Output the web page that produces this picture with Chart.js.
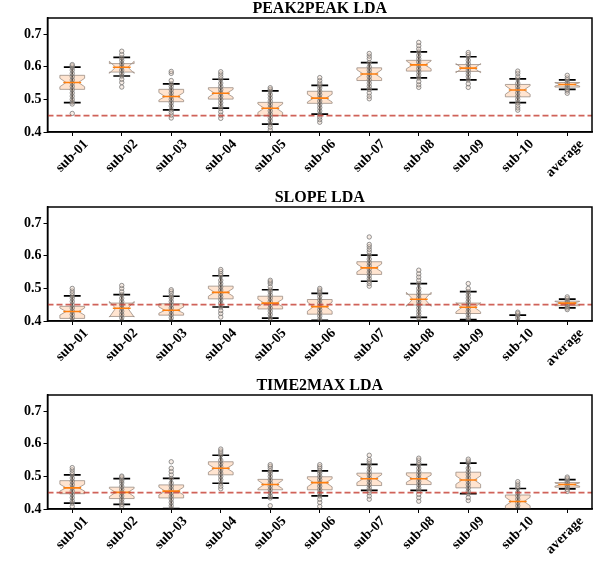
<!DOCTYPE html>
<html>
<head>
<meta charset="utf-8">
<script src="https://cdn.jsdelivr.net/npm/chart.js@4.4.0/dist/chart.umd.min.js"></script>
<style>
body{margin:0;background:#fff;width:610px;height:565px;position:relative;overflow:hidden}
.panel{position:absolute;left:0;width:610px;height:188px}
</style>
</head>
<body>
<div class="panel" style="top:0"><canvas id="c0"></canvas></div>
<div class="panel" style="top:189px"><canvas id="c1"></canvas></div>
<div class="panel" style="top:377px"><canvas id="c2"></canvas></div>
<script>
var subjects = ['sub-01','sub-02','sub-03','sub-04','sub-05','sub-06','sub-07','sub-08','sub-09','sub-10','average'];
var yTicks = [0.4, 0.5, 0.6, 0.7];
var chance = 0.45;

// PEAK2PEAK
var p2pQ1 = [0.531,0.584,0.493,0.501,0.450,0.488,0.558,0.587,0.586,0.508,0.538];
var p2pMed = [0.552,0.599,0.509,0.519,0.473,0.504,0.578,0.606,0.596,0.529,0.546];
var p2pQ3 = [0.574,0.610,0.531,0.536,0.491,0.525,0.597,0.620,0.607,0.546,0.552];
var p2pNotchLo = [0.539,0.580,0.498,0.507,0.460,0.492,0.565,0.594,0.582,0.516,0.541];
var p2pNotchHi = [0.565,0.617,0.521,0.531,0.486,0.516,0.591,0.618,0.610,0.542,0.551];
var p2pWhiskLo = [0.490,0.572,0.468,0.473,0.424,0.455,0.531,0.566,0.560,0.490,0.531];
var p2pWhiskHi = [0.599,0.629,0.548,0.562,0.526,0.543,0.613,0.646,0.631,0.563,0.560];
var p2pPoints = [
  [0.457,0.486,0.492,0.50,0.51,0.52,0.53,0.54,0.55,0.56,0.57,0.58,0.59,0.598,0.603,0.607],
  [0.538,0.552,0.562,0.572,0.58,0.59,0.60,0.61,0.62,0.628,0.638,0.648],
  [0.443,0.452,0.46,0.468,0.48,0.49,0.50,0.51,0.52,0.53,0.54,0.548,0.558,0.58,0.586],
  [0.442,0.452,0.462,0.472,0.48,0.49,0.50,0.51,0.52,0.53,0.54,0.55,0.562,0.57,0.578,0.585],
  [0.406,0.415,0.424,0.435,0.445,0.455,0.465,0.475,0.485,0.495,0.505,0.515,0.526,0.531,0.536],
  [0.430,0.438,0.446,0.455,0.465,0.475,0.485,0.495,0.505,0.515,0.525,0.535,0.543,0.55,0.558,0.567],
  [0.502,0.51,0.52,0.531,0.54,0.55,0.56,0.57,0.58,0.59,0.60,0.613,0.625,0.633,0.641],
  [0.537,0.545,0.555,0.566,0.575,0.585,0.595,0.605,0.615,0.625,0.635,0.646,0.655,0.665,0.675],
  [0.537,0.548,0.56,0.57,0.58,0.59,0.60,0.61,0.62,0.631,0.638,0.644],
  [0.467,0.474,0.482,0.49,0.50,0.51,0.52,0.53,0.54,0.55,0.563,0.57,0.58,0.587],
  [0.519,0.526,0.531,0.538,0.545,0.552,0.56,0.566,0.574]
];

// SLOPE
var slopeQ1 = [0.408,0.414,0.418,0.468,0.437,0.421,0.543,0.449,0.423,0.360,0.447];
var slopeMed = [0.429,0.439,0.433,0.488,0.455,0.444,0.563,0.467,0.442,0.375,0.455];
var slopeQ3 = [0.445,0.455,0.453,0.507,0.476,0.466,0.582,0.482,0.455,0.390,0.461];
var slopeNotchLo = [0.418,0.412,0.424,0.476,0.444,0.430,0.551,0.445,0.428,0.365,0.450];
var slopeNotchHi = [0.440,0.460,0.443,0.500,0.467,0.458,0.575,0.488,0.456,0.385,0.460];
var slopeWhiskLo = [0.395,0.398,0.395,0.443,0.409,0.402,0.522,0.411,0.404,0.330,0.440];
var slopeWhiskHi = [0.477,0.481,0.476,0.539,0.496,0.485,0.602,0.515,0.490,0.418,0.467];
var slopePoints = [
  [0.39,0.40,0.41,0.42,0.43,0.44,0.45,0.46,0.47,0.477,0.485,0.492,0.50],
  [0.39,0.40,0.41,0.42,0.43,0.44,0.45,0.46,0.47,0.481,0.49,0.50,0.509],
  [0.39,0.40,0.41,0.42,0.43,0.44,0.45,0.46,0.47,0.476,0.485,0.491,0.496],
  [0.412,0.423,0.432,0.443,0.455,0.465,0.475,0.485,0.495,0.505,0.515,0.525,0.539,0.545,0.552,0.558],
  [0.40,0.409,0.42,0.43,0.44,0.45,0.46,0.47,0.48,0.49,0.496,0.505,0.515,0.52,0.525],
  [0.395,0.405,0.415,0.425,0.435,0.445,0.455,0.465,0.475,0.485,0.49,0.495,0.50],
  [0.507,0.515,0.522,0.53,0.54,0.55,0.56,0.57,0.58,0.59,0.602,0.612,0.62,0.628,0.635,0.658],
  [0.40,0.411,0.42,0.43,0.44,0.45,0.46,0.47,0.48,0.49,0.50,0.515,0.525,0.535,0.545,0.556],
  [0.398,0.404,0.41,0.42,0.43,0.44,0.45,0.46,0.47,0.48,0.49,0.50,0.515],
  [0.38,0.39,0.40,0.41,0.418,0.423,0.427],
  [0.435,0.44,0.446,0.452,0.458,0.464,0.469,0.474]
];

// TIME2MAX
var t2mQ1 = [0.447,0.432,0.434,0.505,0.459,0.459,0.472,0.475,0.465,0.390,0.467];
var t2mMed = [0.465,0.451,0.455,0.525,0.475,0.481,0.493,0.493,0.489,0.423,0.475];
var t2mQ3 = [0.487,0.467,0.474,0.545,0.491,0.499,0.510,0.511,0.513,0.443,0.481];
var t2mNotchLo = [0.455,0.438,0.443,0.513,0.462,0.468,0.481,0.482,0.476,0.410,0.470];
var t2mNotchHi = [0.476,0.463,0.467,0.537,0.488,0.493,0.505,0.504,0.502,0.436,0.480];
var t2mWhiskLo = [0.418,0.414,0.401,0.479,0.434,0.440,0.457,0.457,0.447,0.370,0.462];
var t2mWhiskHi = [0.505,0.493,0.494,0.565,0.517,0.517,0.537,0.536,0.541,0.463,0.490];
var t2mPoints = [
  [0.408,0.418,0.425,0.435,0.445,0.455,0.465,0.475,0.485,0.495,0.505,0.512,0.52,0.527],
  [0.408,0.414,0.422,0.43,0.44,0.45,0.46,0.47,0.48,0.487,0.493,0.498,0.501],
  [0.395,0.401,0.41,0.42,0.43,0.44,0.45,0.46,0.47,0.48,0.494,0.505,0.515,0.525,0.545],
  [0.462,0.47,0.479,0.49,0.50,0.51,0.52,0.53,0.54,0.55,0.565,0.572,0.578,0.584],
  [0.41,0.434,0.44,0.45,0.46,0.47,0.48,0.49,0.50,0.51,0.517,0.525,0.531,0.536],
  [0.408,0.42,0.43,0.44,0.45,0.46,0.47,0.48,0.49,0.50,0.51,0.517,0.525,0.53,0.536],
  [0.43,0.44,0.45,0.457,0.465,0.475,0.485,0.495,0.505,0.515,0.525,0.537,0.545,0.552,0.565],
  [0.424,0.435,0.445,0.457,0.465,0.475,0.485,0.495,0.505,0.515,0.525,0.536,0.542,0.55,0.556],
  [0.426,0.435,0.447,0.455,0.465,0.475,0.485,0.495,0.505,0.515,0.525,0.541,0.547,0.553],
  [0.39,0.40,0.41,0.42,0.43,0.44,0.45,0.463,0.47,0.477,0.484],
  [0.454,0.46,0.466,0.472,0.478,0.484,0.49,0.494,0.498]
];

var panels = [
  {title:'PEAK2PEAK LDA', q1:p2pQ1, med:p2pMed, q3:p2pQ3, nlo:p2pNotchLo, nhi:p2pNotchHi, wlo:p2pWhiskLo, whi:p2pWhiskHi, pts:p2pPoints},
  {title:'SLOPE LDA', q1:slopeQ1, med:slopeMed, q3:slopeQ3, nlo:slopeNotchLo, nhi:slopeNotchHi, wlo:slopeWhiskLo, whi:slopeWhiskHi, pts:slopePoints},
  {title:'TIME2MAX LDA', q1:t2mQ1, med:t2mMed, q3:t2mQ3, nlo:t2mNotchLo, nhi:t2mNotchHi, wlo:t2mWhiskLo, whi:t2mWhiskHi, pts:t2mPoints}
];

var serif = "'Liberation Serif', 'Times New Roman', serif";

// draws notched boxes + whiskers under the points, medians / chance line / frame / title on top
var boxPlugin = {
  id: 'notchBox',
  beforeDatasetsDraw: function(chart, args, o){
    var ctx = chart.ctx, x = chart.scales.x, y = chart.scales.y, a = chart.chartArea;
    var step = x.getPixelForValue(1) - x.getPixelForValue(0);
    var half = step*0.25, cap = step*0.17;
    ctx.save();
    ctx.beginPath(); ctx.rect(a.left, a.top, a.right-a.left, a.bottom-a.top); ctx.clip();
    o.q1.forEach(function(q1, i){
      var xc = x.getPixelForValue(i);
      var y1 = y.getPixelForValue(q1), y3 = y.getPixelForValue(o.q3[i]);
      var ym = y.getPixelForValue(o.med[i]);
      var nl = y.getPixelForValue(o.nlo[i]), nh = y.getPixelForValue(o.nhi[i]);
      ctx.beginPath();
      ctx.moveTo(xc-half, y1); ctx.lineTo(xc-half, nl); ctx.lineTo(xc-half/2, ym);
      ctx.lineTo(xc-half, nh); ctx.lineTo(xc-half, y3); ctx.lineTo(xc+half, y3);
      ctx.lineTo(xc+half, nh); ctx.lineTo(xc+half/2, ym); ctx.lineTo(xc+half, nl);
      ctx.lineTo(xc+half, y1); ctx.closePath();
      ctx.fillStyle = 'rgba(255,195,150,0.45)';
      ctx.fill();
      ctx.strokeStyle = 'rgba(150,135,125,0.75)';
      ctx.lineWidth = 1;
      ctx.stroke();
      var wl = y.getPixelForValue(o.wlo[i]), wh = y.getPixelForValue(o.whi[i]);
      ctx.strokeStyle = '#000';
      ctx.lineWidth = 1.7;
      ctx.beginPath();
      ctx.moveTo(xc, wl); ctx.lineTo(xc, wh);
      ctx.moveTo(xc-cap, wl); ctx.lineTo(xc+cap, wl);
      ctx.moveTo(xc-cap, wh); ctx.lineTo(xc+cap, wh);
      ctx.stroke();
    });
    ctx.restore();
  },
  afterDatasetsDraw: function(chart, args, o){
    var ctx = chart.ctx, x = chart.scales.x, y = chart.scales.y, a = chart.chartArea;
    var step = x.getPixelForValue(1) - x.getPixelForValue(0);
    var mh = step*0.18;
    ctx.save();
    ctx.beginPath(); ctx.rect(a.left, a.top, a.right-a.left, a.bottom-a.top); ctx.clip();
    ctx.strokeStyle = '#ff7f0e';
    ctx.lineWidth = 1.6;
    o.med.forEach(function(m, i){
      var xc = x.getPixelForValue(i), ym = y.getPixelForValue(m);
      ctx.beginPath(); ctx.moveTo(xc-mh, ym); ctx.lineTo(xc+mh, ym); ctx.stroke();
    });
    var yc = y.getPixelForValue(chance);
    ctx.strokeStyle = 'rgba(200,70,60,0.85)';
    ctx.lineWidth = 1.8;
    ctx.setLineDash([6,3]);
    ctx.beginPath(); ctx.moveTo(a.left, yc); ctx.lineTo(a.right, yc); ctx.stroke();
    ctx.restore();
    ctx.save();
    ctx.strokeStyle = '#000';
    ctx.lineWidth = 1.5;
    ctx.strokeRect(a.left, a.top, a.right-a.left, a.bottom-a.top);
    ctx.fillStyle = '#000';
    ctx.font = 'bold 16px ' + serif;
    ctx.textAlign = 'center';
    ctx.textBaseline = 'alphabetic';
    ctx.fillText(o.title, (a.left+a.right)/2, 13);
    ctx.restore();
  }
};

panels.forEach(function(p, k){
  var pts = [];
  p.pts.forEach(function(list, i){
    list.forEach(function(v){ pts.push({x: subjects[i], y: v}); });
  });
  new Chart(document.getElementById('c'+k), {
    type: 'scatter',
    data: {
      labels: subjects,
      datasets: [{
        data: pts,
        showLine: false,
        clip: 0,
        pointRadius: 2.2,
        pointBorderWidth: 1,
        pointBorderColor: 'rgba(115,115,115,0.75)',
        pointBackgroundColor: 'rgba(235,205,185,0.35)'
      }]
    },
    options: {
      responsive: true,
      maintainAspectRatio: false,
      animation: false,
      layout: {padding: {left: 0, right: 18, top: 18, bottom: 0}},
      plugins: {
        legend: {display: false},
        tooltip: {enabled: false},
        title: {display: false},
        notchBox: p
      },
      scales: {
        x: {
          type: 'category', offset: true,
          grid: {drawOnChartArea: false, drawTicks: true, tickLength: 4, color: '#000'},
          border: {display: true, color: '#000', width: 1.5},
          ticks: {color: '#000', font: {family: serif, size: 14, weight: 'bold'},
                  minRotation: 45, maxRotation: 45, autoSkip: false, labelOffset: 14, padding: 0},
          afterFit: function(s){ s.height = 56; }
        },
        y: {
          min: 0.4, max: 0.75,
          grid: {drawOnChartArea: false, drawTicks: true, tickLength: 4, color: '#000'},
          border: {display: true, color: '#000', width: 1.5},
          afterBuildTicks: function(s){ s.ticks = yTicks.map(function(v){ return {value: v}; }); },
          ticks: {color: '#000', font: {family: serif, size: 14, weight: 'bold'}, padding: 2,
                  callback: function(v){ return v.toFixed(1); }},
          afterFit: function(s){ s.width = 47.5; }
        }
      }
    },
    plugins: [boxPlugin]
  });
});
</script>
</body>
</html>
